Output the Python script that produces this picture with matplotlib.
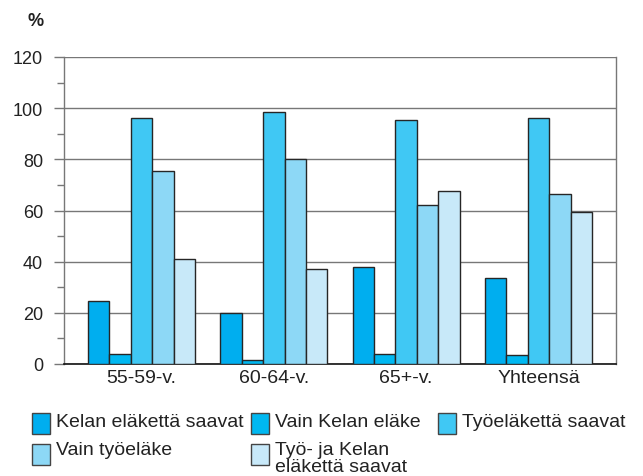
import numpy as np
import matplotlib
matplotlib.use("Agg")
import matplotlib.pyplot as plt
import matplotlib.patches as mpatches
from matplotlib.ticker import MultipleLocator

plt.rcParams["font.family"] = ["Liberation Sans", "DejaVu Sans"]

# ── Daten ────────────────────────────────────────────────────────────
categories = ["55-59-v.", "60-64-v.", "65+-v.", "Yhteensä"]
series_names = [
    "Kelan eläkettä saavat",
    "Vain Kelan eläke",
    "Työeläkettä saavat",
    "Vain työeläke",
    "Työ- ja Kelan\neläkettä saavat",
]
kelan = [24.5, 20, 38, 33.5]
vain_kelan = [4, 1.5, 4, 3.5]
tyoelake = [96, 98.5, 95.5, 96]
vain_tyoelake = [75.5, 80, 62, 66.5]
tyo_ja_kelan = [41, 37, 67.5, 59.5]
colors = ["#00aeef", "#00b8f1", "#40c8f4", "#8dd8f6", "#c8e9f9"]

series = [kelan, vain_kelan, tyoelake, vain_tyoelake, tyo_ja_kelan]

W, H = 643, 477

# ── Plot ─────────────────────────────────────────────────────────────
fig = plt.figure(figsize=(W / 100, H / 100), dpi=100)
ax = fig.add_axes([64 / W, 1 - 365 / H, (616 - 64) / W, (365 - 58) / H])

x = np.arange(len(categories))
w = 0.162
for i, (vals, col) in enumerate(zip(series, colors)):
    ax.bar(x + (i - 2) * w, vals, width=w, color=col,
           edgecolor="#262626", linewidth=1.0, zorder=3)

ax.set_xlim(-0.585, 3.585)
ax.set_ylim(0, 120)
ax.yaxis.set_major_locator(MultipleLocator(20))
ax.yaxis.set_minor_locator(MultipleLocator(10))
ax.grid(axis="y", which="major", color="#777777", linewidth=1.0, zorder=0)
ax.set_axisbelow(True)

for s in ["left", "right"]:
    ax.spines[s].set_color("#777777")
    ax.spines[s].set_linewidth(1.0)
ax.spines["top"].set_visible(False)
ax.spines["bottom"].set_color("#111111")
ax.spines["bottom"].set_linewidth(1.2)

ax.set_xticks(x)
ax.set_xticklabels(categories, fontsize=14, color="#222222")
ax.tick_params(axis="x", length=0, pad=3.5)
ax.tick_params(axis="y", which="major", length=7, width=1.0,
               color="#777777", labelsize=13, labelcolor="#222222", pad=8)
ax.tick_params(axis="y", which="minor", length=5, width=1.0, color="#777777")

fig.text(35.5 / W, 1 - 21.5 / H, "%", fontsize=13, fontweight="bold",
         color="#222222", va="center", ha="center")

# ── Legende (zeilenweise, von Hand gesetzt) ──────────────────────────
# (x-Handle, x-Text, Handle-Oberkante, Grundlinie)
slots = [(32, 56, 414, 427), (251, 275, 414, 427), (438, 462, 414, 427),
         (32, 56, 445, 455), (251, 275, 445, 455)]
for (hx, tx, hy, base), col, name in zip(slots, colors, series_names):
    fig.patches.append(mpatches.Rectangle(
        (hx / W, 1 - (hy + 20.5) / H), 18 / W, 20.5 / H,
        facecolor=col, edgecolor="#444444", linewidth=1.0,
        transform=fig.transFigure, figure=fig))
    for k, line in enumerate(name.split("\n")):
        fig.text(tx / W, 1 - (base + 17.5 * k) / H, line, fontsize=14,
                 color="#222222", ha="left", va="baseline")

fig.savefig("out.png", dpi=100)
